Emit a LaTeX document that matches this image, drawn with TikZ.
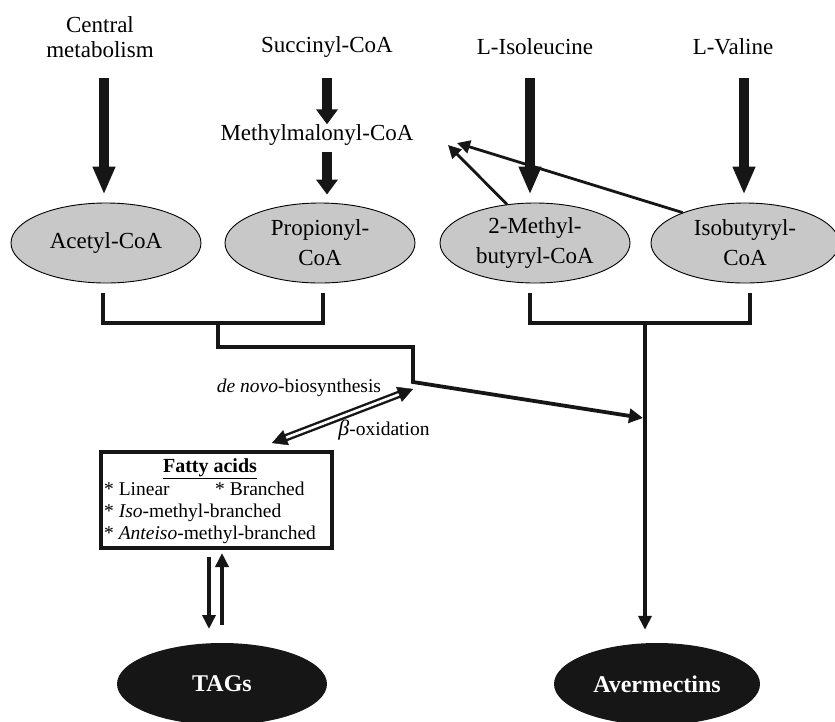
\documentclass[tikz,border=0pt]{standalone}
\usepackage{fontspec}
\setmainfont{Liberation Serif}
\usetikzlibrary{arrows.meta,shapes.geometric,calc}
\definecolor{ellgray}{RGB}{200,200,200}
\definecolor{ink}{RGB}{22,22,22}
\begin{document}
\begin{tikzpicture}[x=1pt,y=-1pt,
  lbl/.style={font=\fontsize{23}{25}\selectfont, align=center, inner sep=0pt},
  graynode/.style={ellipse, draw=black, line width=0.9pt, fill=ellgray, minimum width=190pt, minimum height=80pt, inner sep=0pt, align=center, font=\fontsize{23}{30}\selectfont},
  blacknode/.style={ellipse, fill=ink, minimum width=208pt, minimum height=82pt, inner sep=0pt, text=white, font=\fontsize{24}{28}\selectfont\bfseries},
  bigarrow/.style={line width=10pt, draw=ink, -{Triangle[length=28pt,width=21pt]}},
  smallarrow/.style={line width=10pt, draw=ink, -{Triangle[length=15pt,width=21pt]}},
  conn/.style={line width=3.8pt, draw=ink},
  thinarrow/.style={line width=2.8pt, draw=ink, -{Triangle[length=13pt,width=13pt]}},
  midarrow/.style={line width=3.8pt, draw=ink, -{Triangle[length=14pt,width=13pt]}},
  fatxt/.style={font=\fontsize{19.5}{22}\selectfont, inner sep=0pt, anchor=base west},
]
\useasboundingbox (0,0) rectangle (835,721);

% top labels
\node[lbl] (central) at (100,37) {Central\\metabolism};
\node[lbl] (succ) at (327,47) {Succinyl-CoA};
\node[lbl] (methyl) at (317,135) {Methylmalonyl-CoA};
\node[lbl] (ile) at (535,47) {L-Isoleucine};
\node[lbl] (val) at (733,47) {L-Valine};

% gray ellipses
\node[graynode] (acetyl) at (106,243) {Acetyl-CoA};
\node[graynode] (prop) at (320,243) {Propionyl-\\CoA};
\node[graynode] (mbut) at (535,243) {2-Methyl-\\butyryl-CoA};
\node[graynode, minimum width=188pt] (isob) at (745,243) {Isobutyryl-\\CoA};

% black ellipses
\node[blacknode, minimum width=210pt] (tags) at (222,684) {TAGs};
\node[blacknode, minimum width=206pt] (aver) at (657,684) {Avermectins};

% fatty acids box
\node[draw=ink, line width=3.2pt, minimum width=231pt, minimum height=96pt, inner sep=0pt] (fa) at (216.5,500) {};
\node[font=\fontsize{20}{22}\selectfont\bfseries, inner sep=0pt, anchor=base] (fatitle) at (210,472) {\underline{Fatty acids}};
\node[fatxt] (fa1) at (104,495.5) {* Linear};
\node[fatxt] (fa2) at (215,495.5) {* Branched};
\node[fatxt] (fa3) at (104,517.5) {* \textit{Iso}-methyl-branched};
\node[fatxt] (fa4) at (104,539.5) {* \textit{Anteiso}-methyl-branched};

% thick input arrows
\coordinate (c1) at (104,78);
\coordinate (s1) at (327,78);
\coordinate (s2) at (327,152);
\coordinate (i1) at (530,78);
\coordinate (v1) at (744,78);
\draw[bigarrow, shorten >=8pt] (c1) -- (c1 |- acetyl.north);
\draw[smallarrow] (s1) -- (s1 |- methyl.north);
\draw[smallarrow, shorten >=8pt] (s2) -- (s2 |- prop.north);
\draw[bigarrow, shorten >=8pt] (i1) -- (i1 |- mbut.north);
\draw[bigarrow, shorten >=8pt] (v1) -- (v1 |- isob.north);

% thin arrows back to methylmalonyl-CoA
\coordinate (mm1) at (448,145);
\coordinate (mm2) at (457,143);
\draw[thinarrow] (mbut.126) -- (mm1);
\draw[thinarrow] (isob.154) -- (mm2);

% left bracket
\coordinate (bl1) at (103,293);
\coordinate (bl2) at (323,293);
\coordinate (blm) at (218,323);
\draw[conn] (bl1) -- (103,323) -- (323,323) -- (bl2);
% right bracket
\coordinate (br1) at (530,293);
\coordinate (br2) at (750,293);
\coordinate (brm) at (645,323);
\draw[conn] (br1) -- (530,323) -- (750,323) -- (br2);

% vertical line to avermectins
\draw[midarrow, shorten >=13pt] (brm) -- (brm |- aver.north);
\coordinate (avhit) at (643,418);
% path from left bracket
\coordinate (corner) at (413,382);
\draw[conn, -{Triangle[length=14pt,width=14pt]}] (blm) -- (218,347) -- (413,347) -- (corner) -- (avhit);

% double hollow arrow de novo / beta-oxidation
\coordinate (dnA) at (413,389);
\coordinate (dnB) at (272,443);
\draw[draw=ink, line width=2.4pt, double=white, double distance=2.6pt, shorten <=14pt, shorten >=14pt] (dnA) -- (dnB);
\draw[ink, line width=0.4pt, -{Triangle[length=15pt,width=16pt]}] ($(dnA)!15pt!(dnB)$) -- (dnA);
\draw[ink, line width=0.4pt, -{Triangle[length=15pt,width=16pt]}] ($(dnB)!15pt!(dnA)$) -- (dnB);
\node[font=\fontsize{19.5}{22}\selectfont, inner sep=0pt] (denovo) at (299,388) {\textit{de novo}-biosynthesis};
\node[font=\fontsize{19.5}{22}\selectfont, inner sep=0pt] (betaox) at (384,430) {{\fontsize{22}{22}\selectfont\textit{β}}-oxidation};

% TAG arrows
\coordinate (t1) at (209,557);
\coordinate (t2) at (222,625);
\draw[midarrow] (t1) -- (209,629);
\draw[midarrow] (t2) -- (222,553);
\end{tikzpicture}
\end{document}
